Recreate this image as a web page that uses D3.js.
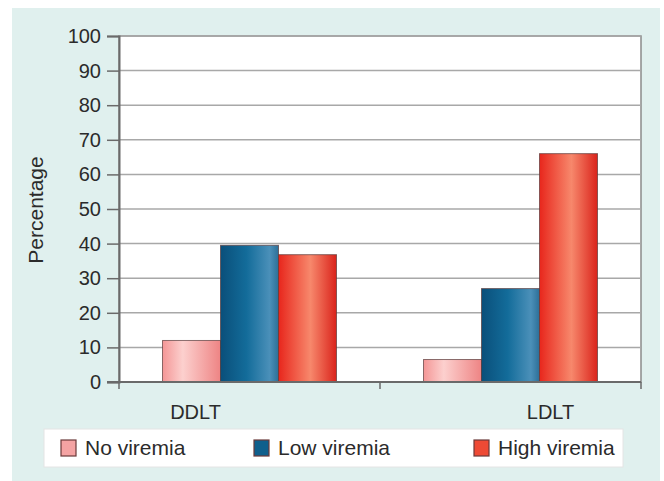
<!DOCTYPE html>
<html>
<head>
<meta charset="utf-8">
<title>Viremia</title>
<script src="https://cdn.jsdelivr.net/npm/d3@7/dist/d3.min.js"></script>
<style>
  body { margin: 0; background: #fff; }
  text { font-family: "Liberation Sans", Arial, sans-serif; fill: #2b2b2b; }
</style>
</head>
<body>
<script>
var categories = ["DDLT", "LDLT"];
var series = ["No viremia", "Low viremia", "High viremia"];
var noViremia = [12, 6.5];
var lowViremia = [39.5, 27];
var highViremia = [36.8, 66];
var yTicks = [0, 10, 20, 30, 40, 50, 60, 70, 80, 90, 100];

var W = 664, H = 481,
    mLeft = 119, mRight = 641, mTop = 36, mBottom = 382;

var svg = d3.select("body").append("svg")
  .attr("width", W).attr("height", H);

// gradients per series
var defs = svg.append("defs");
var grads = {
  "No viremia": [["0%", "#f49696"], ["35%", "#fcd0ce"], ["100%", "#ee8484"]],
  "Low viremia": [["0%", "#0a4f7a"], ["45%", "#136c9a"], ["85%", "#4b90b9"], ["100%", "#2d6f98"]],
  "High viremia": [["0%", "#e8261c"], ["55%", "#f7886c"], ["100%", "#da231b"]]
};
series.forEach(function(s, i) {
  var g = defs.append("linearGradient").attr("id", "g" + i)
    .attr("x1", "0%").attr("x2", "100%").attr("y1", "0%").attr("y2", "0%");
  grads[s].forEach(function(st) {
    g.append("stop").attr("offset", st[0]).attr("stop-color", st[1]);
  });
});
var legendFill = ["#f4a3a3", "#0f5f8c", "#ee4a35"];

// panel
svg.append("rect").attr("x", 12).attr("y", 8).attr("width", 648).attr("height", 473)
  .attr("fill", "#e0f0ee");

var x0 = d3.scaleBand().domain(categories).range([mLeft, mRight]).padding(0);
var x1 = d3.scaleBand().domain(series).range([0, x0.bandwidth()]).paddingInner(0).paddingOuter(0.75);
var y = d3.scaleLinear().domain([0, 100]).range([mBottom, mTop]);

// plot area
svg.append("rect").attr("x", mLeft).attr("y", mTop).attr("width", mRight - mLeft).attr("height", mBottom - mTop)
  .attr("fill", "#fff").attr("stroke", "#8a8a8a").attr("stroke-width", 1.5);

svg.append("g").selectAll("line").data(yTicks.slice(1)).join("line")
  .attr("x1", mLeft).attr("x2", mRight)
  .attr("y1", function(d) { return y(d); }).attr("y2", function(d) { return y(d); })
  .attr("stroke", "#a8a8a8").attr("stroke-width", 1.5);

// bars
var data = categories.map(function(c, i) {
  return { cat: c, vals: [noViremia[i], lowViremia[i], highViremia[i]] };
});
var grp = svg.append("g").selectAll("g").data(data).join("g")
  .attr("transform", function(d) { return "translate(" + x0(d.cat) + ",0)"; });
grp.selectAll("rect").data(function(d) { return d.vals.map(function(v, i) { return { s: series[i], i: i, v: v }; }); })
  .join("rect")
  .attr("x", function(d) { return x1(d.s); })
  .attr("y", function(d) { return y(d.v); })
  .attr("width", x1.bandwidth())
  .attr("height", function(d) { return y(0) - y(d.v); })
  .attr("fill", function(d) { return "url(#g" + d.i + ")"; })
  .attr("stroke", "#5a3a3a").attr("stroke-opacity", 0.7).attr("stroke-width", 1);

// y axis
var yAxis = svg.append("g").attr("transform", "translate(" + mLeft + ",0)")
  .call(d3.axisLeft(y).tickValues(yTicks).tickSize(12).tickPadding(6));
yAxis.select(".domain").attr("stroke", "#6a6a6a").attr("stroke-width", 2);
yAxis.selectAll(".tick line").attr("stroke", "#6a6a6a").attr("stroke-width", 1.5);
yAxis.selectAll("text").attr("font-size", 20).style("fill", "#2b2b2b");

// x axis line with category boundary ticks
var xl = svg.append("g");
xl.append("line").attr("x1", mLeft - 12).attr("x2", mRight).attr("y1", mBottom).attr("y2", mBottom)
  .attr("stroke", "#6a6a6a").attr("stroke-width", 2);
var bounds = [mLeft].concat(categories.map(function(c) { return x0(c) + x0.bandwidth(); }));
xl.selectAll(".bt").data(bounds).join("line").attr("class", "bt")
  .attr("x1", function(d) { return d; }).attr("x2", function(d) { return d; })
  .attr("y1", mBottom).attr("y2", mBottom + 7)
  .attr("stroke", "#6a6a6a").attr("stroke-width", 1.5);

// category labels (set off-centre as in the original)
var labelShift = [-54, 40];
svg.append("g").selectAll("text").data(categories).join("text")
  .attr("x", function(d, i) { return x0(d) + x0.bandwidth() / 2 + labelShift[i]; })
  .attr("y", 419).attr("text-anchor", "middle").attr("font-size", 20)
  .text(function(d) { return d; });

// y title
svg.append("text").attr("transform", "translate(43,210) rotate(-90)")
  .attr("text-anchor", "middle").attr("font-size", 21).text("Percentage");

// legend
svg.append("rect").attr("x", 44).attr("y", 429).attr("width", 579).attr("height", 38)
  .attr("fill", "#fff").attr("stroke", "#e4e4e4");
var legX = [61, 254, 474];
var lg = svg.append("g").selectAll("g").data(series).join("g")
  .attr("transform", function(d, i) { return "translate(" + legX[i] + ",440)"; });
lg.append("rect").attr("width", 15).attr("height", 16)
  .attr("fill", function(d, i) { return legendFill[i]; })
  .attr("stroke", "#6a3a3a").attr("stroke-width", 1.2);
lg.append("text").attr("x", 24).attr("y", 15).attr("font-size", 21)
  .text(function(d) { return d; });
</script>
</body>
</html>
